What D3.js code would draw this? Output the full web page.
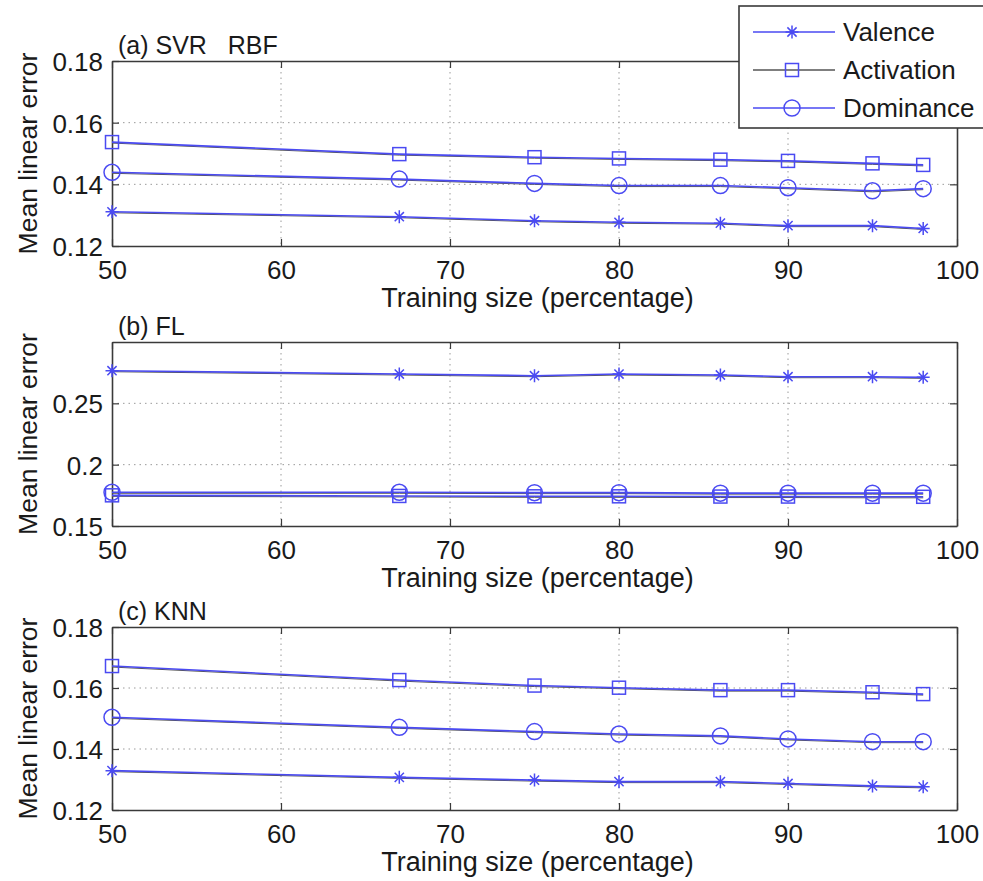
<!DOCTYPE html>
<html>
<head>
<meta charset="utf-8">
<title>Mean linear error vs training size</title>
<script src="https://d3js.org/d3.v7.min.js"></script>
<style>
  body { margin: 0; background: #fff; }
  text { font-family: "Liberation Sans", Arial, sans-serif; fill: #1a1a1a; }
</style>
</head>
<body>
<svg id="svg" width="983" height="881"></svg>
<script>
// training size (percentage) on the x axis
const trainSize = [50, 67, 75, 80, 86, 90, 95, 98];
const xTicks = [50, 60, 70, 80, 90, 100];
const seriesNames = ["Valence", "Activation", "Dominance"];

// (a) SVR RBF
const svrValence = [0.1311, 0.1295, 0.1282, 0.1277, 0.1274, 0.1266, 0.1266, 0.1257];
const svrActivation = [0.1537, 0.1498, 0.1488, 0.1484, 0.1480, 0.1476, 0.1468, 0.1463];
const svrDominance = [0.1439, 0.1417, 0.1403, 0.1396, 0.1396, 0.1389, 0.1379, 0.1386];
const svrTicks = [0.12, 0.14, 0.16, 0.18];

// (b) FL
const flValence = [0.2766, 0.2739, 0.2725, 0.2739, 0.2731, 0.2717, 0.2717, 0.2712];
const flActivation = [0.1750, 0.1745, 0.1742, 0.1742, 0.1740, 0.1740, 0.1738, 0.1738];
const flDominance = [0.1775, 0.1775, 0.1772, 0.1772, 0.1768, 0.1768, 0.1768, 0.1768];
const flTicks = [0.15, 0.2, 0.25];

// (c) KNN
const knnValence = [0.1329, 0.1307, 0.1298, 0.1293, 0.1293, 0.1287, 0.1279, 0.1276];
const knnActivation = [0.1672, 0.1626, 0.1608, 0.1601, 0.1593, 0.1593, 0.1586, 0.1580];
const knnDominance = [0.1504, 0.1471, 0.1457, 0.1449, 0.1443, 0.1433, 0.1424, 0.1424];
const knnTicks = [0.12, 0.14, 0.16, 0.18];

const panels = [
    { title: "(a) SVR   RBF", top: 61, bottom: 246, domain: [0.12, 0.18], ticks: svrTicks, series: [svrValence, svrActivation, svrDominance] },
    { title: "(b) FL", top: 342, bottom: 526, domain: [0.15, 0.30], ticks: flTicks, series: [flValence, flActivation, flDominance] },
    { title: "(c) KNN", top: 627, bottom: 810, domain: [0.12, 0.18], ticks: knnTicks, series: [knnValence, knnActivation, knnDominance] }
];

const svg = d3.select("#svg");
const left = 112, right = 957;
const blue = "#4a4af2", frame = "#3a3a3a", grid = "#9a9a9a";
const x = d3.scaleLinear().domain([50, 100]).range([left, right]);
const fmt = d => String(+d.toFixed(2));

function marker(g, kind, cx, cy) {
    if (kind == 0) {
        const r = 6.5, q = 4.6;
        g.append("path")
            .attr("d", `M${cx - r},${cy}h${2 * r}M${cx},${cy - r}v${2 * r}M${cx - q},${cy - q}l${2 * q},${2 * q}M${cx - q},${cy + q}l${2 * q},${-2 * q}`)
            .attr("stroke", blue).attr("stroke-width", 1.5).attr("fill", "none");
    } else if (kind == 1) {
        g.append("rect").attr("x", cx - 6.5).attr("y", cy - 6.5).attr("width", 13).attr("height", 13)
            .attr("fill", "none").attr("stroke", blue).attr("stroke-width", 1.5);
    } else {
        g.append("circle").attr("cx", cx).attr("cy", cy).attr("r", 8)
            .attr("fill", "none").attr("stroke", blue).attr("stroke-width", 1.5);
    }
}

panels.forEach(function (p) {
    const g = svg.append("g");
    const y = d3.scaleLinear().domain(p.domain).range([p.bottom, p.top]);

    // dotted grid
    g.append("g").selectAll("line").data(xTicks.slice(1, -1)).join("line")
        .attr("x1", d => x(d)).attr("x2", d => x(d)).attr("y1", p.top).attr("y2", p.bottom)
        .attr("stroke", grid).attr("stroke-dasharray", "1.5,4");
    g.append("g").selectAll("line").data(p.ticks.filter(t => t > p.domain[0] && t < p.domain[1])).join("line")
        .attr("x1", left).attr("x2", right).attr("y1", d => y(d)).attr("y2", d => y(d))
        .attr("stroke", grid).attr("stroke-dasharray", "1.5,4");

    // axes, ticks inward like matlab
    const xb = g.append("g").attr("transform", `translate(0,${p.bottom})`)
        .call(d3.axisBottom(x).tickValues(xTicks).tickSizeInner(-7).tickSizeOuter(0).tickPadding(15));
    const xt = g.append("g").attr("transform", `translate(0,${p.top})`)
        .call(d3.axisTop(x).tickValues(xTicks).tickSizeInner(-7).tickSizeOuter(0).tickFormat(""));
    const yl = g.append("g").attr("transform", `translate(${left},0)`)
        .call(d3.axisLeft(y).tickValues(p.ticks).tickFormat(fmt).tickSizeInner(-7).tickSizeOuter(0).tickPadding(9));
    const yr = g.append("g").attr("transform", `translate(${right},0)`)
        .call(d3.axisRight(y).tickValues(p.ticks).tickSizeInner(-7).tickSizeOuter(0).tickFormat(""));
    [xb, xt, yl, yr].forEach(a => {
        a.select(".domain").attr("stroke", frame).attr("stroke-width", 1.6);
        a.selectAll(".tick line").attr("stroke", frame).attr("stroke-width", 1.2);
        a.selectAll(".tick text").attr("font-size", 26).attr("fill", "#1a1a1a")
            .style("font-family", '"Liberation Sans", Arial, sans-serif');
    });
    yl.selectAll(".tick text").attr("dy", "0.36em");

    // series
    const line = d3.line().x((d, i) => x(trainSize[i])).y(d => y(d));
    p.series.forEach(function (s, k) {
        g.append("path").attr("d", line(s)).attr("fill", "none")
            .attr("stroke", "#555").attr("stroke-width", 1).attr("transform", "translate(0,1)");
        g.append("path").attr("d", line(s)).attr("fill", "none")
            .attr("stroke", blue).attr("stroke-width", 1.6);
        s.forEach((v, i) => marker(g, k, x(trainSize[i]), y(v)));
    });

    g.append("text").attr("x", left + 6).attr("y", p.top - 7).attr("font-size", 25)
        .style("white-space", "pre").text(p.title);
    g.append("text").attr("x", (left + right) / 2 + 3).attr("y", p.bottom + 61)
        .attr("text-anchor", "middle").attr("font-size", 27).text("Training size (percentage)");
    g.append("text").attr("transform", `translate(37,${(p.top + p.bottom) / 2}) rotate(-90)`)
        .attr("text-anchor", "middle").attr("font-size", 26.5).text("Mean linear error");
});

// legend
const lg = svg.append("g").attr("transform", "translate(739,6)");
lg.append("rect").attr("width", 250).attr("height", 122).attr("fill", "#fff")
    .attr("stroke", frame).attr("stroke-width", 1.6);
seriesNames.forEach(function (name, k) {
    const cy = 26 + k * 38;
    lg.append("line").attr("x1", 14).attr("x2", 96).attr("y1", cy).attr("y2", cy)
        .attr("stroke", k == 1 ? "#555" : blue).attr("stroke-width", 1.6);
    marker(lg, k, 53, cy);
    lg.append("text").attr("x", 104).attr("y", cy).attr("dy", "0.36em").attr("font-size", 26).text(name);
});
</script>
</body>
</html>
